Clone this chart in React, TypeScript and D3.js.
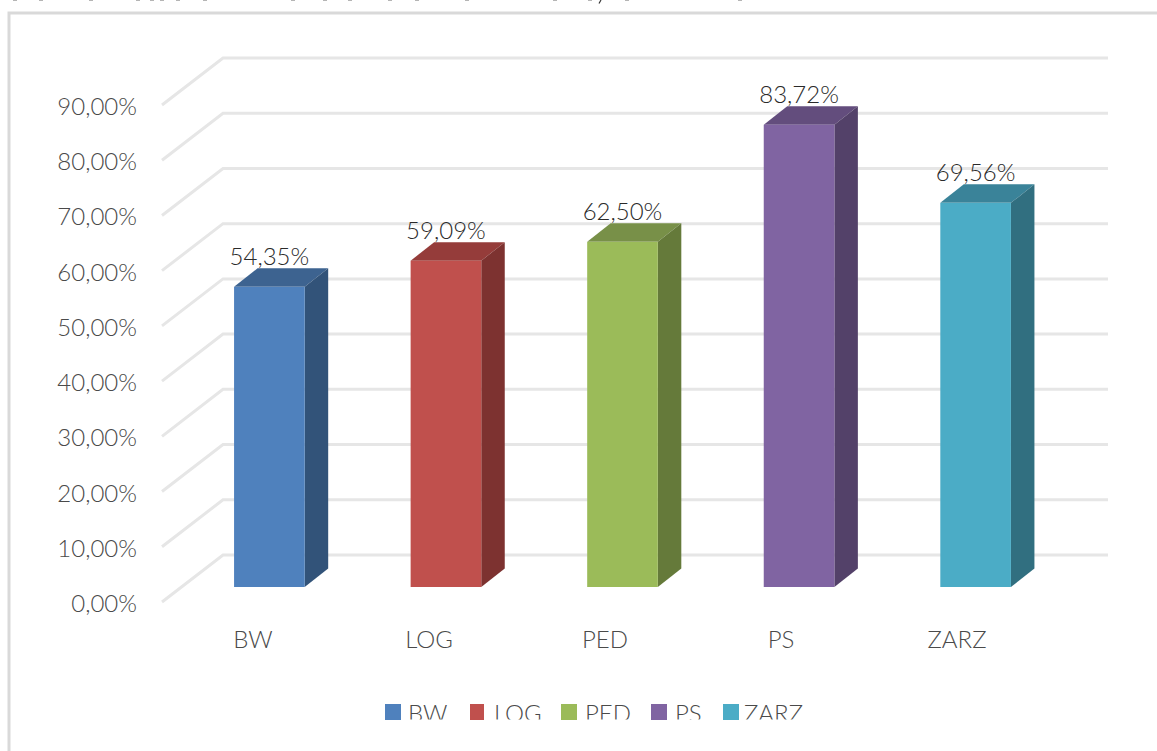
import React from "react";
import * as d3 from "d3";

const categories = ["BW", "LOG", "PED", "PS", "ZARZ"];
const values = [54.35, 59.09, 62.5, 83.72, 69.56];
const valueLabels = ["54,35%", "59,09%", "62,50%", "83,72%", "69,56%"];
const ticks = [0, 10, 20, 30, 40, 50, 60, 70, 80, 90];
const tickLabels = ["0,00%", "10,00%", "20,00%", "30,00%", "40,00%", "50,00%", "60,00%", "70,00%", "80,00%", "90,00%"];
const frontColors = ["#4f81bd", "#c0504d", "#9bbb59", "#8064a2", "#4bacc6"];
const topColors = ["#3d6390", "#953c3a", "#789048", "#634d7d", "#3a8399"];
const sideColors = ["#325379", "#7d3230", "#657a3a", "#534169", "#316f80"];
const legendSwatchX = [385, 470, 561, 651, 723];
const legendSwatchW = [16, 14, 16, 16, 16];
const legendTextX = [408, 494, 585, 675, 744];
// Feet of the unreadable caption letters that show at the image's top edge
const clippedCaptionFeet = [15, 41, 91, 138, 152, 162, 178, 205, 293, 325, 350, 390, 417, 467, 555, 590, 627, 740];
const clippedCaptionComma = 600;

const FONT = "Lato, Carlito, sans-serif";
const TXT = "#4a4a4a";

export default function App() {
  const y = d3.scaleLinear().domain([0, 90]).range([587, 90]);
  const x = d3.scaleBand().domain(categories).range([234 - 52.9, 1011 + 52.9]).paddingInner(0.6).paddingOuter(0.3);
  const catX = d3.scalePoint().domain(categories).range([253, 957]);
  const dxDepth = 23.5, dyDepth = 18.5;
  const gridBackDx = 61, gridBackDy = -47;
  return (
    <svg width={1157} height={751} style={{ position: "absolute", left: 0, top: 0, background: "#fff" }} fontFamily={FONT}>
      <defs>
        <clipPath id="legendClip"><rect x={0} y={690} width={1157} height={29.5} /></clipPath>
      </defs>
      {clippedCaptionFeet.map((fx) => (
        <rect key={fx} x={fx - 2} y={0} width={4} height={1} fill="#b5b5b5" />
      ))}
      <line x1={clippedCaptionComma + 1} y1={0} x2={clippedCaptionComma - 1} y2={3.5} stroke="#333" strokeWidth={1.2} />
      <rect x={9} y={13} width={1160} height={760} fill="#fff" stroke="#d9d9d9" strokeWidth={3} />
      {ticks.map((t, i) => {
        const fy = y(t) + 15;
        return (
          <g key={t}>
            <polyline points={`162,${fy} ${162 + gridBackDx},${fy + gridBackDy} 1108,${fy + gridBackDy}`} fill="none" stroke="#e6e6e6" strokeWidth={3} />
            <text x={137} y={fy + 10} textAnchor="end" fontSize={24} fontWeight={300} fill={TXT}>{tickLabels[i]}</text>
          </g>
        );
      })}
      {categories.map((c, i) => {
        const x0 = x(c)!;
        const w = x.bandwidth();
        const top = y(values[i]);
        const bot = y(0);
        return (
          <g key={c}>
            <polygon points={`${x0},${top} ${x0 + dxDepth},${top - dyDepth} ${x0 + w + dxDepth},${top - dyDepth} ${x0 + w},${top}`} fill={topColors[i]} />
            <polygon points={`${x0 + w},${top} ${x0 + w + dxDepth},${top - dyDepth} ${x0 + w + dxDepth},${bot - dyDepth} ${x0 + w},${bot}`} fill={sideColors[i]} />
            <rect x={x0} y={top} width={w} height={bot - top} fill={frontColors[i]} />
            <text x={x0 + w / 2} y={top - 22} textAnchor="middle" fontSize={24} fontWeight={300} fill="#2a2a2a">{valueLabels[i]}</text>
            <text x={catX(c)!} y={648} textAnchor="middle" fontSize={24} fontWeight={300} fill={TXT}>{c}</text>
          </g>
        );
      })}
      {categories.map((c, i) => (
        <g key={c}>
          <rect x={legendSwatchX[i]} y={704} width={legendSwatchW[i]} height={16} fill={frontColors[i]} />
          <text x={legendTextX[i]} y={722} fontSize={24} fontWeight={300} fill={TXT} clipPath="url(#legendClip)">{c}</text>
        </g>
      ))}
    </svg>
  );
}
